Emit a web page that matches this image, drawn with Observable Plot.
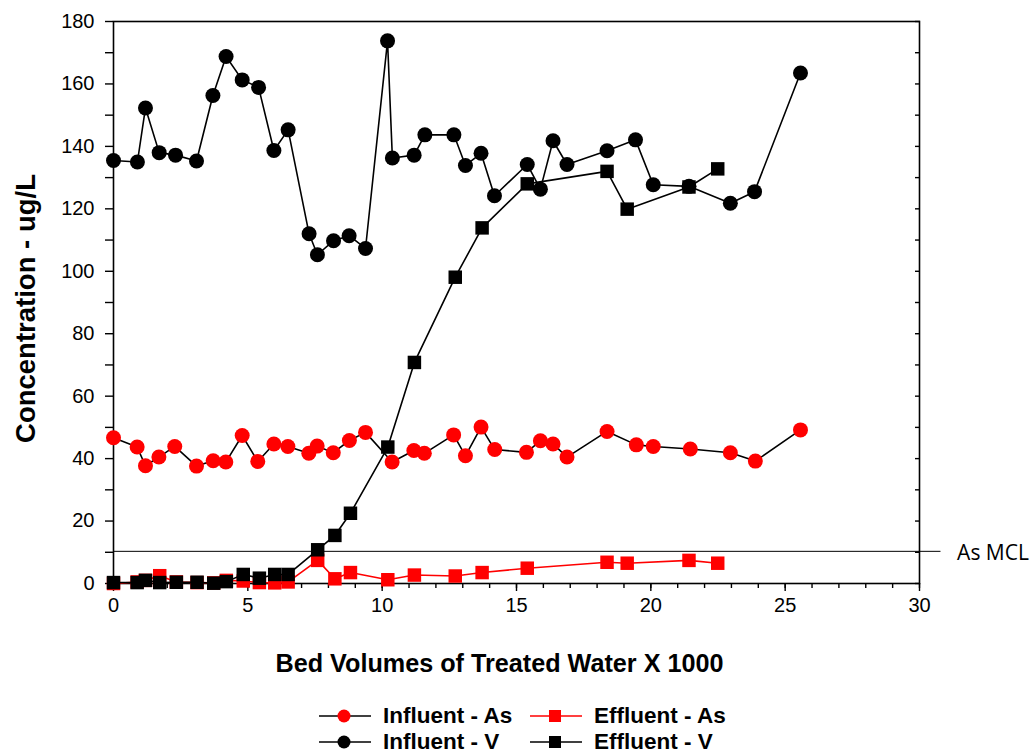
<!DOCTYPE html>
<html>
<head>
<meta charset="utf-8">
<script src="https://cdn.jsdelivr.net/npm/d3@7"></script>
<script src="https://cdn.jsdelivr.net/npm/@observablehq/plot@0.6"></script>
<style>
  body { margin: 0; background: #fff; font-family: "Liberation Sans", Arial, sans-serif; }
  #wrap { position: relative; width: 1032px; height: 753px; }
  #legend { position: absolute; left: 319px; top: 705px; display: grid; grid-template-columns: 211px 220px; row-gap: 4px; }
  .item { display: flex; align-items: center; height: 22px; font-weight: bold; font-size: 22.5px; color: #000; }
  .item svg { margin-right: 12px; flex: none; }
</style>
</head>
<body>
<div id="wrap"><div id="chart"></div><div id="legend"></div></div>
<script>
// Influent - V
const infVx = [0,0.89,1.19,1.70,2.31,3.09,3.70,4.19,4.79,5.40,5.97,6.50,7.28,7.59,8.19,8.77,9.38,10.2,10.38,11.19,11.59,12.67,13.1,13.68,14.18,15.4,15.89,16.36,16.88,18.37,19.43,20.09,21.42,22.96,23.86,25.57];
const infV  = [135.5,135,152.3,138,137.2,135.3,156.3,168.8,161.3,158.9,138.7,145.3,112,105.3,109.8,111.4,107.3,173.8,136.3,137.2,143.7,143.7,133.9,137.8,124.2,134.2,126.3,141.8,134.2,138.6,142.1,127.7,127.2,121.8,125.5,163.5];
// Influent - As
const infAsx = [0,0.88,1.19,1.69,2.28,3.09,3.71,4.18,4.79,5.37,5.97,6.49,7.27,7.58,8.18,8.78,9.38,10.37,11.18,11.57,12.66,13.1,13.68,14.19,15.37,15.89,16.36,16.88,18.37,19.46,20.09,21.47,22.96,23.89,25.57];
const infAs  = [46.7,43.7,37.7,40.5,43.9,37.6,39.3,38.9,47.4,39.1,44.7,43.9,41.7,44.0,41.9,45.8,48.4,38.9,42.6,41.7,47.6,40.9,50.1,42.9,42.0,45.7,44.7,40.5,48.7,44.4,43.9,43.1,41.9,39.2,49.2];
// Effluent (V and As share sampling points)
const effx  = [0,0.88,1.19,1.72,2.34,3.11,3.73,4.2,4.83,5.43,6.0,6.5,7.6,8.24,8.82,10.21,11.2,12.72,13.72,15.4,18.37,19.12,21.42,22.49];
const effV  = [0.3,0.3,1.0,0.3,0.4,0.4,0.1,0.6,2.9,1.7,2.9,2.9,10.8,15.4,22.5,43.7,70.8,98.1,113.9,128,132,119.9,127,132.8];
const effAs = [0,0.5,1.0,2.5,0.5,0.3,0.2,1.0,0.8,0.3,0.2,0.5,7.4,1.5,3.5,1.2,2.7,2.4,3.5,4.9,6.8,6.5,7.4,6.5];
// As MCL
const mclValue = 10.3;
const mclLabel = "As MCL";

const xMajor = [0,5,10,15,20,25,30];
const xMinor = d3.range(0, 31, 1);
const yTicks = d3.range(0, 181, 10);

const RED = "#ff0000";
const toRows = (xs, ys) => xs.map((x, i) => ({x, y: ys[i]}));
const iV = toRows(infVx, infV), iAs = toRows(infAsx, infAs), eV = toRows(effx, effV), eAs = toRows(effx, effAs);

const chart = Plot.plot({
  width: 1032, height: 690,
  marginLeft: 113, marginRight: 113, marginTop: 21, marginBottom: 107,
  style: {fontFamily: "'Liberation Sans', Arial, sans-serif", fontSize: "20px", color: "#000", background: "#fff"},
  x: {domain: [0, 30]},
  y: {domain: [0, 180]},
  marks: [
    Plot.frame({stroke: "#000", strokeWidth: 1.6}),
    Plot.axisX({ticks: xMinor, tickSize: 5, tickFormat: () => "", label: null, strokeWidth: 1.4}),
    Plot.axisX({ticks: xMajor, tickSize: 8, tickPadding: 6, label: null, strokeWidth: 1.4, fontSize: 20}),
    Plot.axisY({ticks: yTicks, tickSize: 8, tickPadding: 11, label: null, strokeWidth: 1.4, fontSize: 20,
      tickFormat: d => d % 20 === 0 ? String(d) : ""}),
    Plot.axisY({anchor: "right", ticks: yTicks, tickSize: 5, dx: -5, label: null, strokeWidth: 1.4, tickFormat: () => ""}),
    Plot.ruleY([mclValue], {x1: 0, x2: 30.8, stroke: "#000", strokeWidth: 1}),
    Plot.text([mclLabel], {x: 31.4, y: mclValue, text: d => d, textAnchor: "start", fontSize: 21,
      fontFamily: "'Open Sans', sans-serif", fill: "#000", dy: 2}),
    // Effluent - As
    Plot.line(eAs, {x: "x", y: "y", stroke: RED, strokeWidth: 1.6}),
    Plot.dot(eAs, {x: "x", y: "y", symbol: "square", r: 7.6, fill: RED}),
    // Influent - As
    Plot.line(iAs, {x: "x", y: "y", stroke: "#000", strokeWidth: 1.6}),
    Plot.dot(iAs, {x: "x", y: "y", r: 7.5, fill: RED}),
    // Effluent - V
    Plot.line(eV, {x: "x", y: "y", stroke: "#000", strokeWidth: 1.6}),
    Plot.dot(eV, {x: "x", y: "y", symbol: "square", r: 7.6, fill: "#000"}),
    // Influent - V
    Plot.line(iV, {x: "x", y: "y", stroke: "#000", strokeWidth: 1.6}),
    Plot.dot(iV, {x: "x", y: "y", r: 7.5, fill: "#000"}),
    // Axis titles
    Plot.text(["Bed Volumes of Treated Water X 1000"], {frameAnchor: "bottom", text: d => d, dy: 80, dx: -17,
      textAnchor: "middle", lineAnchor: "middle", fontSize: 25.2, fontWeight: "bold", fill: "#000"}),
    Plot.text(["Concentration - ug/L"], {frameAnchor: "left", text: d => d, dx: -87, dy: 6, rotate: -90,
      textAnchor: "middle", lineAnchor: "middle", fontSize: 27.5, fontWeight: "bold", fill: "#000"})
  ]
});
document.getElementById("chart").appendChild(chart);

// Legend
const legendItems = [
  {label: "Influent - As", line: "#000", fill: RED, symbol: "circle"},
  {label: "Effluent - As", line: RED, fill: RED, symbol: "square"},
  {label: "Influent - V", line: "#000", fill: "#000", symbol: "circle"},
  {label: "Effluent - V", line: "#000", fill: "#000", symbol: "square"}
];
const legend = document.getElementById("legend");
for (const it of legendItems) {
  const div = document.createElement("div");
  div.className = "item";
  const shape = it.symbol === "circle"
    ? `<circle cx="25" cy="11" r="6.5" fill="${it.fill}"/>`
    : `<rect x="19" y="5" width="12" height="12" fill="${it.fill}"/>`;
  div.innerHTML = `<svg width="52" height="22"><line x1="0" x2="52" y1="11" y2="11" stroke="${it.line}" stroke-width="1.6"/>${shape}</svg><span>${it.label}</span>`;
  legend.appendChild(div);
}
</script>
</body>
</html>
